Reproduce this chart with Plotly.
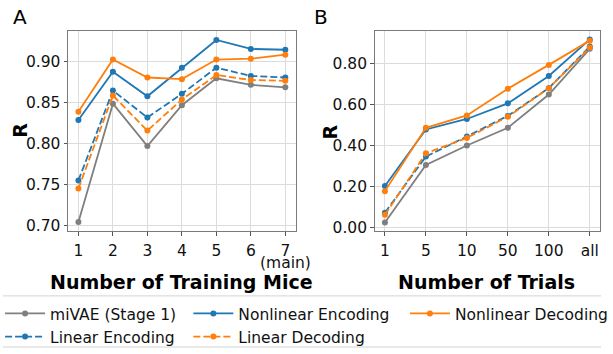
import plotly.graph_objects as go

# ---------------- data ----------------
mice = [1, 2, 3, 4, 5, 6, 7]
mice_labels = ["1", "2", "3", "4", "5", "6", "7"]
main_note = "(main)"
a_mivae = [0.704, 0.849, 0.797, 0.847, 0.880, 0.872, 0.869]
a_nonlin_enc = [0.829, 0.888, 0.858, 0.893, 0.927, 0.916, 0.915]
a_nonlin_dec = [0.839, 0.903, 0.881, 0.879, 0.903, 0.904, 0.909]
a_lin_enc = [0.755, 0.865, 0.832, 0.861, 0.893, 0.883, 0.881]
a_lin_dec = [0.745, 0.859, 0.816, 0.854, 0.884, 0.878, 0.877]

trials = ["1", "5", "10", "50", "100", "all"]
b_mivae = [0.025, 0.305, 0.400, 0.486, 0.648, 0.870]
b_nonlin_enc = [0.203, 0.478, 0.529, 0.605, 0.738, 0.916]
b_nonlin_dec = [0.178, 0.486, 0.546, 0.676, 0.792, 0.910]
b_lin_enc = [0.073, 0.346, 0.444, 0.544, 0.679, 0.881]
b_lin_dec = [0.063, 0.362, 0.437, 0.540, 0.679, 0.876]

a_yticks = [0.70, 0.75, 0.80, 0.85, 0.90]
b_yticks = [0.0, 0.2, 0.4, 0.6, 0.8]

GRAY = "#7f7f7f"
BLUE = "#1f77b4"
ORANGE = "#ff7f0e"
FONT = "DejaVu Sans"
W, H = 613, 354

series = [
    ("miVAE (Stage 1)", a_mivae, b_mivae, GRAY, "solid", "legend"),
    ("Linear Encoding", a_lin_enc, b_lin_enc, BLUE, "7px,3px", "legend"),
    ("Nonlinear Encoding", a_nonlin_enc, b_nonlin_enc, BLUE, "solid", "legend2"),
    ("Linear Decoding", a_lin_dec, b_lin_dec, ORANGE, "7px,3px", "legend2"),
    ("Nonlinear Decoding", a_nonlin_dec, b_nonlin_dec, ORANGE, "solid", "legend3"),
]

fig = go.Figure()
for name, ya, yb, col, dash, leg in series:
    fig.add_trace(go.Scatter(
        x=mice, y=ya, mode="lines+markers", name=name,
        line=dict(color=col, width=1.8, dash=dash),
        marker=dict(color=col, size=6), legend=leg,
        xaxis="x", yaxis="y"))
    fig.add_trace(go.Scatter(
        x=trials, y=yb, mode="lines+markers", name=name,
        line=dict(color=col, width=1.8, dash=dash),
        marker=dict(color=col, size=6), showlegend=False,
        xaxis="x2", yaxis="y2"))

axis_common = dict(
    showline=True, mirror=True, linecolor="#7a7a7a", linewidth=1,
    showgrid=True, gridcolor="#dcdcdc", gridwidth=1,
    ticks="outside", ticklen=3.5, tickwidth=1, tickcolor="#555555",
    tickfont=dict(family=FONT, size=15.5, color="#111111"),
    zeroline=False,
)

top_px, bot_px = 31.5, 235
ydom = [1 - bot_px / H, 1 - top_px / H]

fig.update_layout(
    width=W, height=H, margin=dict(l=0, r=0, t=0, b=0),
    paper_bgcolor="white", plot_bgcolor="white",
    font=dict(family=FONT, color="#111111"),
    xaxis=dict(domain=[66.7 / W, 300 / W], range=[0.7, 7.3],
               tickvals=mice, ticktext=mice_labels, ticklabelstandoff=2,
               **axis_common),
    yaxis=dict(domain=ydom, range=[0.693, 0.938], tickvals=a_yticks,
               tickformat=".2f", **axis_common),
    xaxis2=dict(domain=[381 / W, 612 / W], range=[-0.25, 5.25],
                type="category", anchor="y2", ticklabelstandoff=2,
                **axis_common),
    yaxis2=dict(domain=ydom, range=[-0.016, 0.957], tickvals=b_yticks,
                tickformat=".2f", anchor="x2", **axis_common),
)

leg_common = dict(
    orientation="v", xanchor="left", yanchor="top",
    font=dict(family=FONT, size=15.5, color="#111111"),
    bgcolor="rgba(0,0,0,0)", borderwidth=0, itemwidth=40,
    tracegroupgap=0,
)
fig.update_layout(
    legend=dict(x=-3 / W, y=1 - 302 / H, **leg_common),
    legend2=dict(x=190 / W, y=1 - 302 / H, **leg_common),
    legend3=dict(x=412 / W, y=1 - 302 / H, **leg_common),
)

# legend frame lines
for ypx in (301, 353):
    fig.add_shape(type="line", xref="paper", yref="paper",
                  x0=0, x1=1, y0=1 - ypx / H, y1=1 - ypx / H,
                  line=dict(color="#d3d3d3", width=1))

def ann(text, xpx, ypx, size, bold=False, angle=0):
    fig.add_annotation(
        text=f"<b>{text}</b>" if bold else text,
        x=xpx / W, y=1 - ypx / H, xref="paper", yref="paper",
        xanchor="center", yanchor="middle", showarrow=False,
        textangle=angle, font=dict(family=FONT, size=size, color="#000000"))

ann("A", 17.5, 17, 20)
ann("B", 326, 17, 20)
ann("R", 17.5, 133, 19, bold=True, angle=-90)
ann("R", 335, 134, 19, bold=True, angle=-90)
ann("Number of Training Mice", 183, 287, 19, bold=True)
ann("Number of Trials", 496, 287, 19, bold=True)

# "(main)" note under the last tick of panel A
fig.add_annotation(
    text=main_note, x=mice[-1], xref="x", y=1 - 268 / H, yref="paper",
    xanchor="center", yanchor="middle", showarrow=False,
    font=dict(family=FONT, size=15.5, color="#111111"))

fig.write_html("out.html")
